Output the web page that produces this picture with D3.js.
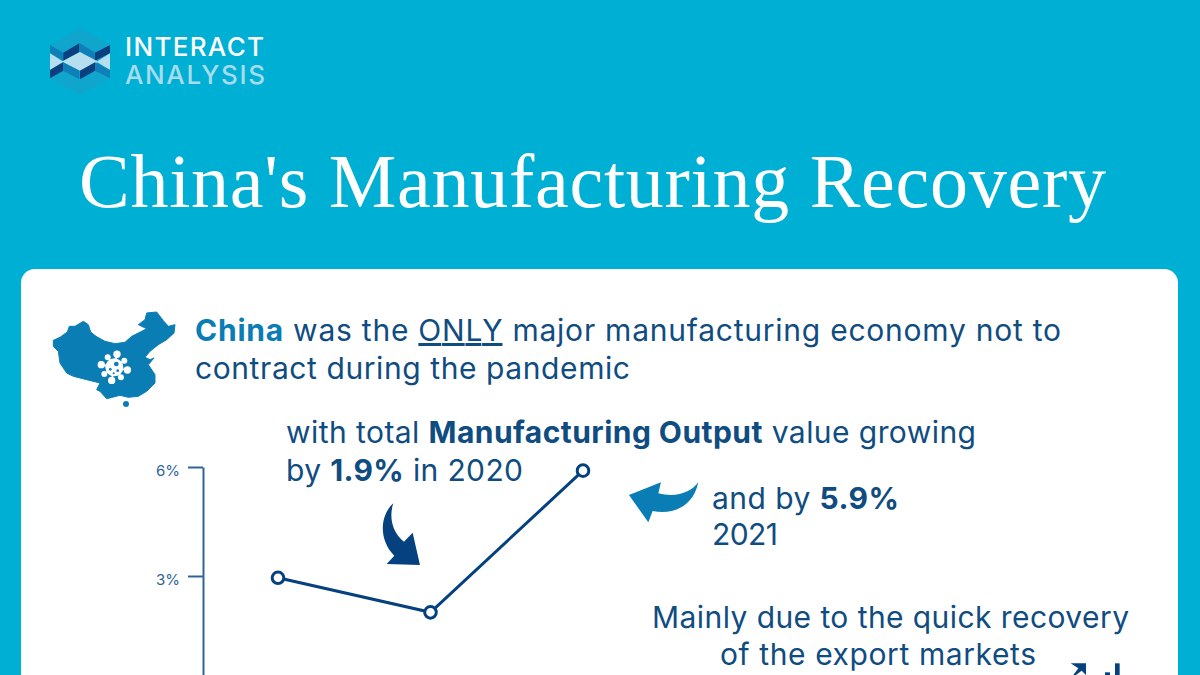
<!DOCTYPE html>
<html lang="en">
<head>
  <meta charset="UTF-8" />
  <title>China's Manufacturing Recovery</title>
  <script src="https://d3js.org/d3.v7.min.js"></script>
  <style>
    html, body { margin: 0; padding: 0; background: #00afd4; overflow: hidden; }
    svg { display: block; }
    text { font-family: "Inter", "Noto Sans", sans-serif; }
  </style>
</head>
<body>
  <svg id="chart" width="1200" height="675"></svg>

  <script>
    // Values
    const years = ["2019", "2020", "2021"];
    const growth = [2.95, 2.0, 5.9];
    const tickValues = [3, 6];

    const navy = "#0f4c81";
    const blue = "#0a7db5";
    const deep = "#05417f";

    const svg = d3.select("#chart");

    // Background and card
    svg.append("rect").attr("width", 1200).attr("height", 675).attr("fill", "#00afd4");
    svg.append("rect").attr("x", 21).attr("y", 269).attr("width", 1157).attr("height", 440)
      .attr("rx", 14).attr("fill", "#fff");

    // Text line made of segments, stretched to the width it has in the picture
    function addLine(x, y, width, segments, size = 30) {
      const t = svg.append("text")
        .attr("x", x).attr("y", y)
        .attr("font-size", size)
        .attr("fill", navy)
        .attr("textLength", width)
        .attr("lengthAdjust", "spacing");
      segments.forEach(s => {
        const span = t.append("tspan").text(s.text);
        if (s.bold) span.attr("font-weight", 700);
        if (s.fill) span.attr("fill", s.fill);
        if (s.underline) span.attr("text-decoration", "underline");
      });
      return t;
    }

    // Title
    svg.append("text")
      .attr("x", 79).attr("y", 207)
      .attr("font-size", 76)
      .attr("fill", "#fff")
      .attr("textLength", 1027)
      .attr("lengthAdjust", "spacing")
      .style("font-family", '"Liberation Serif", serif')
      .text("China's Manufacturing Recovery");

    // Logo
    const logo = svg.append("g").attr("transform", "translate(30,10) scale(0.3333)");
    const logoShapes = [
      ["#10a5cc", "150,55 240,105 240,205 150,255 60,205 60,105"],
      ["#0f7fb8", "60,105 100,128 100,152 60,130"],
      ["#0b3f80", "100,128 148,100 148,126 100,152"],
      ["#0f7fb8", "150,100 195,128 195,152 150,126"],
      ["#0b3f80", "195,128 240,105 240,130 195,152"],
      ["#b5deef", "150,126 205,155 150,182 95,155"],
      ["#b5deef", "60,130 100,155 60,180"],
      ["#b5deef", "240,130 200,155 240,180"],
      ["#0b3f80", "60,180 100,157 100,182 60,205"],
      ["#0f7fb8", "100,157 148,182 148,208 100,182"],
      ["#0b3f80", "150,182 195,157 195,182 150,208"],
      ["#0f7fb8", "195,157 240,180 240,205 195,182"]
    ];
    logoShapes.forEach(([fill, points]) => logo.append("polygon").attr("points", points).attr("fill", fill));

    addLine(125, 56, 139, [{ text: "INTERACT" }], 26).attr("fill", "#fff").attr("font-weight", 500);
    addLine(125, 84, 140, [{ text: "ANALYSIS" }], 26).attr("fill", "#a6dcec").attr("font-weight", 500);

    // China map icon, drawn in the zoomed crop's units
    const map = svg.append("g").attr("transform", "translate(50,308) scale(0.3333)");
    map.append("path")
      .attr("fill", blue)
      .attr("stroke", blue)
      .attr("stroke-width", 3)
      .attr("stroke-linejoin", "round")
      .attr("d", "M10,97 L30,88 L52,72 L58,55 L75,55 L100,40 L115,50 L122,72 L138,85 L165,100 L195,107 L225,103 L245,85 L275,70 L290,62 L265,50 L285,35 L290,15 L320,12 L340,38 L355,55 L375,50 L372,75 L350,95 L325,110 L300,130 L285,148 L300,155 L312,150 L295,170 L315,200 L315,225 L290,250 L265,265 L235,268 L210,262 L170,272 L150,250 L140,245 L150,225 L110,215 L70,205 L50,195 L30,165 L25,130 L10,115 Z");
    map.append("circle").attr("cx", 228).attr("cy", 288).attr("r", 9).attr("fill", blue);

    // Virus mark on the map
    const virus = map.append("g").attr("transform", "translate(193,178)").attr("fill", "#fff");
    virus.append("circle").attr("r", 27);
    d3.range(8).forEach(i => {
      const a = i * Math.PI / 4 + 0.2;
      const r = i % 2 ? 36 : 40;
      virus.append("line")
        .attr("x2", r * Math.cos(a)).attr("y2", r * Math.sin(a))
        .attr("stroke", "#fff").attr("stroke-width", 5);
      virus.append("circle").attr("cx", r * Math.cos(a)).attr("cy", r * Math.sin(a)).attr("r", i % 2 ? 9 : 11);
    });
    [[6, -10, 7], [-12, 6, 4], [10, 10, 4], [-2, 18, 3]].forEach(([cx, cy, r]) =>
      virus.append("circle").attr("cx", cx).attr("cy", cy).attr("r", r).attr("fill", blue));

    // Text blocks
    addLine(195, 341, 866, [
      { text: "China", bold: true, fill: blue },
      { text: " was the " },
      { text: "ONLY", underline: true },
      { text: " major manufacturing economy not to" }
    ]);
    addLine(195, 379, 435, [{ text: "contract during the pandemic" }]);
    addLine(286, 443, 690, [
      { text: "with total " },
      { text: "Manufacturing Output", bold: true },
      { text: " value growing" }
    ]);
    addLine(286, 481, 237, [
      { text: "by " },
      { text: "1.9%", bold: true },
      { text: " in 2020" }
    ]);
    addLine(712, 509, 187, [
      { text: "and by " },
      { text: "5.9%", bold: true }
    ]);
    addLine(712, 545, 66, [{ text: "2021" }]);
    addLine(652, 628, 477, [{ text: "Mainly due to the quick recovery" }]);
    addLine(720, 665, 316, [{ text: "of the export markets" }]);

    // Scales
    const x = d3.scalePoint().domain(years).range([278, 583]);
    const y = d3.scaleLinear().domain([0, 6]).range([685, 467]);

    // Y axis
    const yAxis = svg.append("g")
      .attr("transform", "translate(203,0)")
      .call(d3.axisLeft(y).tickValues(tickValues).tickFormat(d => d + "%").tickSize(15).tickSizeOuter(0).tickPadding(8));
    yAxis.selectAll("path, line").attr("stroke", "#2f6498").attr("stroke-width", 2);
    yAxis.selectAll("text")
      .attr("font-size", 15)
      .attr("fill", "#2f6498")
      .attr("dy", "0.55em")
      .style("font-family", '"Inter", sans-serif');

    // Line and points
    const series = years.map((year, i) => ({ year, value: growth[i] }));
    const line = d3.line().x(d => x(d.year)).y(d => y(d.value));

    svg.append("path")
      .datum(series)
      .attr("fill", "none")
      .attr("stroke", deep)
      .attr("stroke-width", 3)
      .attr("d", line);

    svg.append("g")
      .selectAll("circle")
      .data(series)
      .join("circle")
      .attr("cx", d => x(d.year))
      .attr("cy", d => y(d.value))
      .attr("r", 5.8)
      .attr("fill", "#fff")
      .attr("stroke", deep)
      .attr("stroke-width", 3);

    // Curved callout arrows
    svg.append("path")
      .attr("transform", "translate(130,440) scale(0.3333)")
      .attr("fill", deep)
      .attr("d", "M790,190 C750,225 745,300 793,347 L770,372 L870,375 L848,278 L822,305 C790,280 775,235 790,190 Z");
    svg.append("path")
      .attr("transform", "translate(560,450) scale(0.3333)")
      .attr("fill", blue)
      .attr("d", "M415,97 C395,125 350,145 295,130 L303,97 L207,135 L265,217 L278,183 C340,195 400,170 415,97 Z");

    // Export icon, cut off by the bottom edge
    const icon = svg.append("g").attr("transform", "translate(1040,640) scale(0.3333)").attr("fill", deep);
    icon.append("path").attr("d", "M92,70 L138,70 L138,105 L125,92 L108,105 L100,105 L115,85 Z");
    icon.append("rect").attr("x", 195).attr("y", 97).attr("width", 15).attr("height", 20);
    icon.append("rect").attr("x", 225).attr("y", 70).attr("width", 14).attr("height", 40);
  </script>
</body>
</html>
